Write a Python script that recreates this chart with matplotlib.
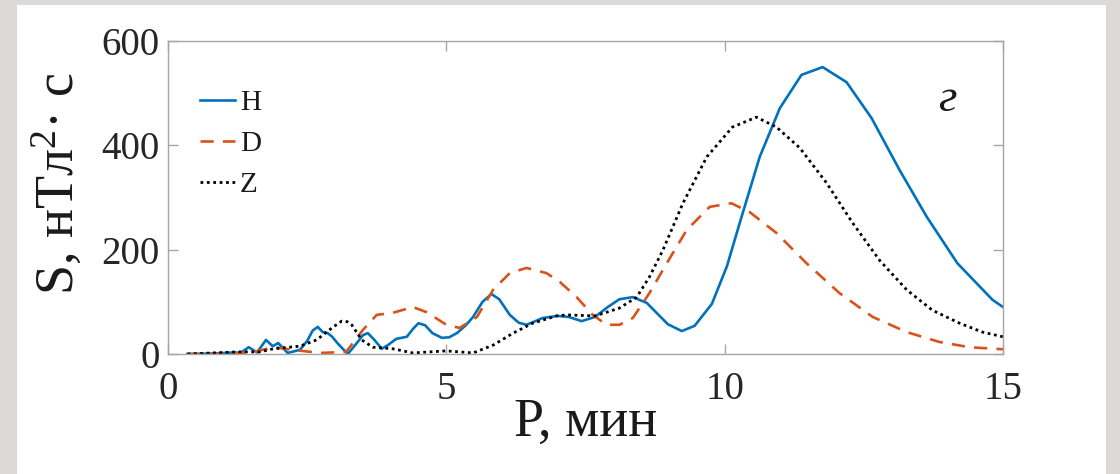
import matplotlib
matplotlib.use("Agg")
import matplotlib.pyplot as plt
from matplotlib.patches import Rectangle

# ---- data ----
p_H = [0.35, 0.8, 1.2, 1.3, 1.45, 1.6, 1.76, 1.88, 1.98, 2.15, 2.37, 2.5, 2.6, 2.69, 2.78,
       2.87, 2.95, 3.05, 3.23, 3.4, 3.5, 3.59, 3.7, 3.84, 3.95, 4.1, 4.29, 4.4, 4.5, 4.62,
       4.75, 4.92, 5.05, 5.19, 5.35, 5.48, 5.65, 5.81, 5.95, 6.14, 6.3, 6.44, 6.6, 6.73,
       7.0, 7.2, 7.43, 7.67, 7.9, 8.11, 8.35, 8.6, 8.98, 9.23, 9.46, 9.77, 10.04, 10.27,
       10.63, 10.99, 11.38, 11.76, 12.19, 12.64, 13.14, 13.63, 14.18, 14.81, 15.0]
s_H = [0, 1, 3, 2, 13, 3, 27, 15, 21, 2, 8, 25, 45, 52, 42,
       40, 33, 20, 0, 22, 36, 40, 28, 10, 17, 29, 33, 48, 59, 55,
       40, 31, 32, 40, 55, 71, 100, 115, 105, 75, 60, 56, 63, 69,
       73, 71, 63, 71, 90, 105, 109, 98, 57, 44, 54, 96, 168, 251,
       378, 471, 535, 550, 521, 452, 353, 263, 174, 104, 90]

p_D = [0.35, 1.0, 1.5, 1.9, 2.24, 2.73, 3.2, 3.5, 3.75, 4.04, 4.4, 4.65, 5.0, 5.24, 5.55,
       5.84, 6.14, 6.44, 6.8, 7.04, 7.34, 7.63, 7.88, 8.11, 8.35, 8.65, 8.96, 9.32, 9.73,
       10.12, 10.45, 10.93, 11.47, 12.06, 12.66, 13.27, 13.86, 14.4, 15.0]
s_D = [0, 0, 3, 13, 8, 2, 4, 46, 75, 79, 90, 80, 56, 50, 71,
       123, 155, 165, 155, 138, 109, 75, 56, 56, 69, 117, 174, 238, 282,
       289, 272, 232, 174, 117, 71, 42, 23, 13, 9]

p_Z = [0.35, 1.24, 1.65, 1.89, 2.37, 2.67, 2.85, 2.97, 3.12, 3.22, 3.3, 3.48, 3.68, 4.04,
       4.4, 5.0, 5.48, 5.84, 6.2, 6.55, 6.98, 7.16, 7.67, 8.11, 8.42, 8.65, 8.89, 9.25,
       9.68, 10.14, 10.57, 10.93, 11.35, 11.83, 12.3, 12.78, 13.27, 13.73, 14.22, 14.63, 15.0]
s_Z = [0, 4, 4, 10, 15, 27, 42, 52, 63, 62, 56, 27, 13, 10,
       2, 6, 2, 17, 40, 59, 73, 75, 73, 88, 109, 148, 199, 289,
       378, 435, 454, 435, 395, 328, 251, 180, 123, 84, 59, 42, 33]

series_labels = ["H", "D", "Z"]
x_ticks = [0, 5, 10, 15]
y_ticks = [0, 200, 400, 600]
panel_letter = "г"

# ---- style ----
plt.rcParams["font.family"] = ["Liberation Serif", "DejaVu Serif"]
plt.rcParams["mathtext.fontset"] = "custom"
plt.rcParams["mathtext.rm"] = "Liberation Serif"
plt.rcParams["mathtext.it"] = "Liberation Serif:italic"

fig = plt.figure(figsize=(11.2, 4.74), dpi=100)
fig.patch.set_facecolor("#dcdad6")
fig.patches.append(Rectangle((17 / 1120, 0), (1106 - 17) / 1120, (474 - 5) / 474,
                             transform=fig.transFigure, facecolor="white",
                             edgecolor="none", zorder=-10))

ax = fig.add_axes([168 / 1120, (474 - 354) / 474, (1003 - 168) / 1120, (354 - 41) / 474])
ax.set_facecolor("white")
ax.set_zorder(1)

ax.plot(p_H, s_H, color="#0072BD", lw=1.9, label=series_labels[0])
ax.plot(p_D, s_D, color="#D95319", lw=1.9, linestyle=(0, (5, 3.5)), label=series_labels[1])
ax.plot(p_Z, s_Z, color="black", lw=2.0, linestyle=(0, (1, 1.3)), label=series_labels[2])

ax.set_xlim(0, 15)
ax.set_ylim(0, 600)
ax.set_xticks(x_ticks)
ax.set_yticks(y_ticks)

for sp in ax.spines.values():
    sp.set_color("#a6a6a6")
    sp.set_linewidth(1.0)

ax.tick_params(direction="in", length=7, width=1.0, color="#a6a6a6",
               labelcolor="#262626", labelsize=28, top=True, right=True)
ax.tick_params(axis="x", pad=12)
ax.tick_params(axis="y", pad=6)

ax.set_xlabel("P, мин", fontsize=39, color="#1a1a1a")
ax.xaxis.set_label_coords(0.5, -0.14)
ax.set_ylabel("S, нТл$^{2}$· с", fontsize=39, color="#1a1a1a")
ax.yaxis.set_label_coords(-0.098, 0.545)

leg = ax.legend(loc="upper left", bbox_to_anchor=(0.038, 0.845), frameon=False,
                fontsize=21, handlelength=1.2, handletextpad=0.17,
                labelspacing=0.5, borderpad=0, borderaxespad=0)
for t in leg.get_texts():
    t.set_color("#1a1a1a")

ax.text(14.0, 487, panel_letter, fontsize=34, style="italic", ha="center", va="center",
        color="#1a1a1a")

fig.savefig("out.png", dpi=100, facecolor=fig.get_facecolor())
